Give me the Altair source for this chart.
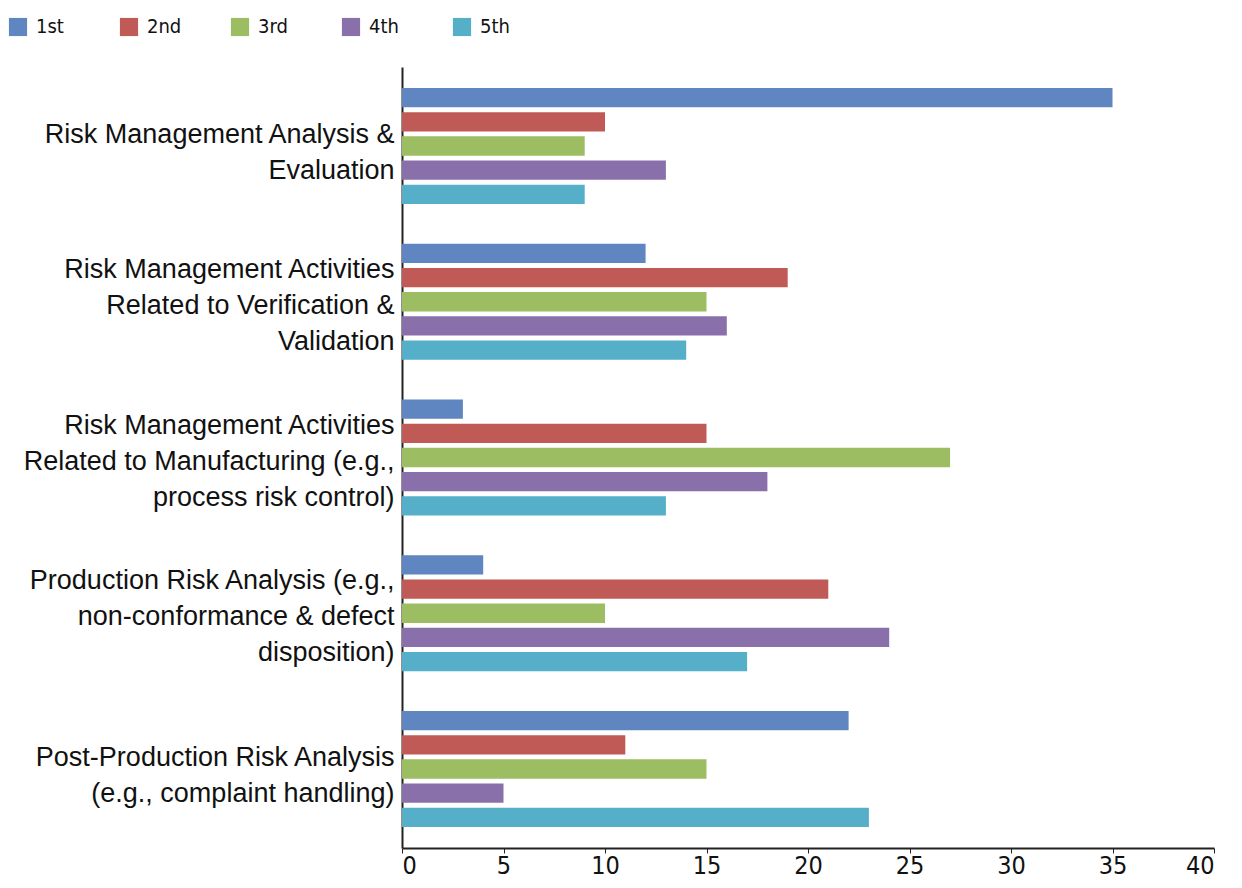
import altair as alt
import pandas as pd

categories = [
    "Risk Management Analysis &|Evaluation",
    "Risk Management Activities|Related to Verification &|Validation",
    "Risk Management Activities|Related to Manufacturing (e.g.,|process risk control)",
    "Production Risk Analysis (e.g.,|non-conformance & defect|disposition)",
    "Post-Production Risk Analysis|(e.g., complaint handling)",
]
series = ["1st", "2nd", "3rd", "4th", "5th"]
values_1st = [35, 12, 3, 4, 22]
values_2nd = [10, 19, 15, 21, 11]
values_3rd = [9, 15, 27, 10, 15]
values_4th = [13, 16, 18, 24, 5]
values_5th = [9, 14, 13, 17, 23]
colors = ["#5F86C0", "#C05A57", "#9DBD62", "#8A70AB", "#55AFC8"]
x_ticks = [0, 5, 10, 15, 20, 25, 30, 35, 40]

all_vals = [values_1st, values_2nd, values_3rd, values_4th, values_5th]
rows = []
for s, vals in zip(series, all_vals):
    for c, v in zip(categories, vals):
        rows.append({"category": c, "rank": s, "value": v})
df = pd.DataFrame(rows)

NARROW = "DejaVu Sans Condensed, Liberation Sans, sans-serif"
LINE_H = 36

chart = (
    alt.Chart(df)
    .mark_bar()
    .encode(
        y=alt.Y(
            "category:N",
            sort=categories,
            scale=alt.Scale(paddingInner=0.255, paddingOuter=0.135),
            axis=alt.Axis(
                title=None,
                labelExpr="split(datum.label, '|')",
                labelFont="Liberation Sans",
                labelFontSize=27,
                labelColor="#111111",
                labelLineHeight=LINE_H,
                labelPadding=8,
                labelOffset={
                    "condition": {
                        "test": "length(split(datum.label, '|')) == 2",
                        "value": -11,
                    },
                    "value": -32,
                },
                ticks=False,
                domainColor="#222222",
                domainWidth=2,
                labelLimit=500,
            ),
        ),
        yOffset=alt.YOffset(
            "rank:N", sort=series, scale=alt.Scale(paddingInner=0.2)
        ),
        x=alt.X(
            "value:Q",
            scale=alt.Scale(domain=[0, 40], nice=False),
            axis=alt.Axis(
                title=None,
                values=x_ticks,
                grid=False,
                labelFont=NARROW,
                labelFontSize=25,
                labelColor="#111111",
                labelPadding=0,
                tickSize=5,
                tickColor="#222222",
                domainColor="#222222",
                domainWidth=2,
            ),
        ),
        color=alt.Color(
            "rank:N",
            sort=series,
            scale=alt.Scale(domain=series, range=colors),
            legend=alt.Legend(
                title=None,
                orient="none",
                legendX=-394,
                legendY=-50,
                direction="horizontal",
                columns=5,
                gridAlign="all",
                symbolType="square",
                symbolSize=330,
                symbolStrokeWidth=0,
                labelFont=NARROW,
                labelFontSize=20,
                labelColor="#111111",
                labelOffset=8,
                columnPadding=48,
            ),
        ),
    )
    .properties(
        width=812,
        height=781,
        padding={"left": 0, "top": 9, "right": 10, "bottom": 5},
    )
    .configure_view(stroke=None)
)

chart.save("out.html", embed_options={"renderer": "svg", "actions": False})
